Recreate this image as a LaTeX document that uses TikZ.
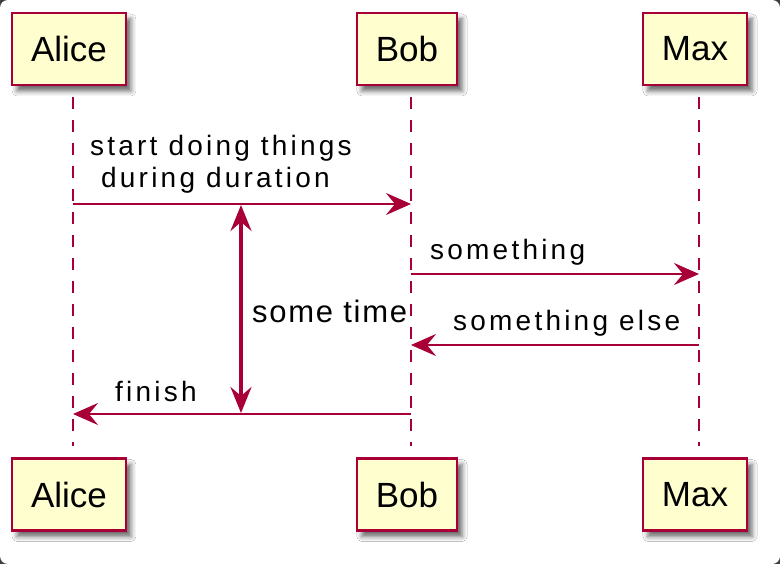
\documentclass[tikz,border=0pt]{standalone}
\usepackage{fontspec}
\setmainfont{Liberation Sans}
\newfontfamily\msgfont{Liberation Sans}[LetterSpace=11.5]
\newfontfamily\durfont{Liberation Sans}[LetterSpace=5.5]
\usetikzlibrary{arrows.meta,shadows.blur,positioning}
\definecolor{umlred}{HTML}{A80036}
\definecolor{umlfill}{HTML}{FEFECE}

\begin{document}
\begin{tikzpicture}[x=1pt,y=-1pt,
  participant/.style={draw=umlred,fill=umlfill,line width=2.5pt,minimum height=72pt,
    inner xsep=19pt,font=\fontsize{35}{40}\selectfont,
    blur shadow={shadow xshift=5pt,shadow yshift=-6pt,shadow blur radius=5pt,shadow opacity=60}},
  lifeline/.style={draw=umlred,line width=2.5pt,dash pattern=on 12pt off 11pt,
    shorten <=11pt,shorten >=11pt},
  msg/.style={draw=umlred,line width=2.5pt,-{Stealth[length=25pt,width=22pt,inset=9pt]}},
  dur/.style={draw=umlred,line width=3.5pt,
    {Stealth[length=26pt,width=21pt,inset=9pt]}-{Stealth[length=26pt,width=21pt,inset=9pt]}},
  msglabel/.style={font=\msgfont\fontsize{28}{32}\selectfont,inner sep=0pt,anchor=base west},
  durlabel/.style={font=\durfont\fontsize{31}{31}\selectfont,inner sep=0pt,anchor=base west}]
  \useasboundingbox (0,0) rectangle (780,564);
  \fill[black!75] (0,0) rectangle (780,564);
  \fill[white,rounded corners=8pt] (0,0) rectangle (780,564);
  % participants
  \node[participant] (alice) at (69,49) {Alice};
  \node[participant] (bob) at (407,49) {Bob};
  \node[participant] (max) at (695,49) {Max};
  \node[participant] (alice2) [below=371pt of alice] {Alice};
  \node[participant] (bob2) [below=371pt of bob] {Bob};
  \node[participant] (max2) [below=371pt of max] {Max};
  % lifelines
  \draw[lifeline] ([xshift=4pt]alice.south) -- ([xshift=4pt]alice2.north);
  \draw[lifeline] ([xshift=4pt]bob.south) -- ([xshift=4pt]bob2.north);
  \draw[lifeline] ([xshift=4pt]max.south) -- ([xshift=4pt]max2.north);
  % message points
  \coordinate (a1) at (73,204);
  \coordinate (b1) at (411,204);
  \coordinate (b2) at (411,274);
  \coordinate (m2) at (699,274);
  \coordinate (m3) at (699,345);
  \coordinate (b3) at (411,345);
  \coordinate (b4) at (411,414);
  \coordinate (a4) at (73,414);
  \coordinate (t1) at (241,205);
  \coordinate (t2) at (241,413);
  % messages
  \draw[msg] (a1) -- (b1);
  \draw[msg] (b2) -- (m2);
  \draw[msg] (m3) -- (b3);
  \draw[msg] (b4) -- (a4);
  \draw[dur] (t1) -- (t2);
  % labels
  \node[msglabel,align=left] (l1) at (90,188) {start doing things\\\hspace*{11pt}during duration};
  \node[msglabel] (l2) at (430,260) {something};
  \node[msglabel] (l3) at (453,331) {something else};
  \node[msglabel] (l4) at (115,402) {finish};
  \node[durlabel] (l5) at (252,323) {some time};
\end{tikzpicture}
\end{document}
